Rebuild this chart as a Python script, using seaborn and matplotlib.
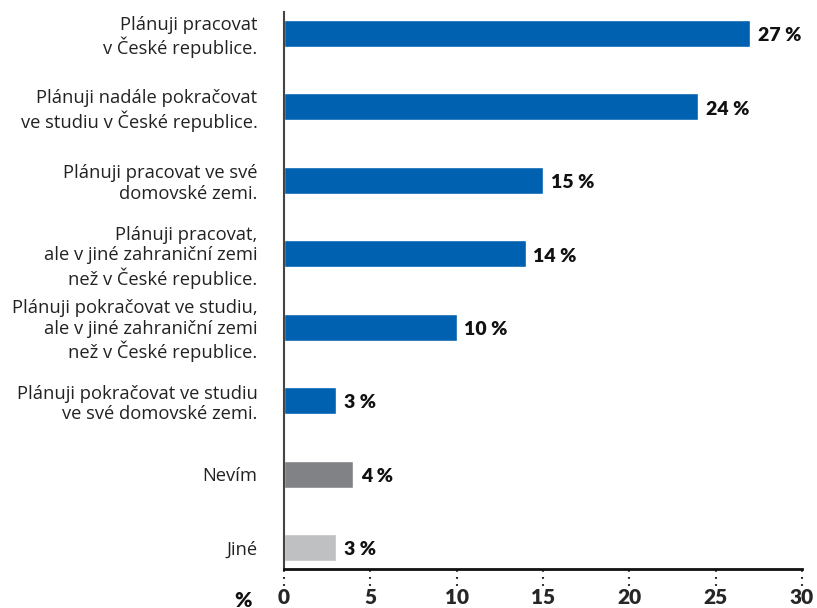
import pandas as pd
import seaborn as sns
import matplotlib.pyplot as plt
import matplotlib.transforms as mtransforms

# data
categories = [
    "Plánuji pracovat\nv České republice.",
    "Plánuji nadále pokračovat\nve studiu v České republice.",
    "Plánuji pracovat ve své\ndomovské zemi.",
    "Plánuji pracovat,\nale v jiné zahraniční zemi\nnež v České republice.",
    "Plánuji pokračovat ve studiu,\nale v jiné zahraniční zemi\nnež v České republice.",
    "Plánuji pokračovat ve studiu\nve své domovské zemi.",
    "Nevím",
    "Jiné",
]
values = [27, 24, 15, 14, 10, 3, 4, 3]
colors = ["#0061b0"] * 6 + ["#808285", "#bfc0c2"]
x_ticks = [0, 5, 10, 15, 20, 25, 30]

df = pd.DataFrame({"kategorie": categories, "podil": values})

sns.set_style("white")
plt.rcParams["font.family"] = ["Lato", "DejaVu Sans"]

fig = plt.figure(figsize=(8.17, 6.08), dpi=100)
ax = fig.add_axes([0.3476, 0.0641, 0.634, 0.916])

sns.barplot(data=df, x="podil", y="kategorie", hue="kategorie",
            palette=colors, legend=False, width=0.37, orient="h", ax=ax,
            saturation=1)

ax.set_xlim(0, 30)
ax.set_ylim(7.29, -0.29)
ax.set_xlabel("")
ax.set_ylabel("")

# value labels
for i, v in enumerate(values):
    ax.text(v + 0.45, i + 0.03, f"{v} %", va="center", ha="left",
            fontsize=14, fontweight="heavy", color="#111111")

# spines
for s in ["top", "right"]:
    ax.spines[s].set_visible(False)
ax.spines["bottom"].set_color("#111111")
ax.spines["bottom"].set_linewidth(2)
ax.spines["left"].set_color("#444444")
ax.spines["left"].set_linewidth(1.5)

ax.set_xticks(x_ticks)
ax.set_xticklabels([str(t) for t in x_ticks], fontsize=15, fontweight="heavy")
ax.tick_params(axis="x", length=0, pad=14)
ax.tick_params(axis="y", length=0, pad=19)
for lbl in ax.get_yticklabels():
    lbl.set_color("#222222")
    lbl.set_multialignment("right")
    lbl.set_family(["Open Sans", "DejaVu Sans"])
    lbl.set_fontsize(13.2)
    lbl.set_linespacing(1.18)

# dotted tick marks below the axis
trans = mtransforms.blended_transform_factory(ax.transData, ax.transAxes)
ax.vlines(x_ticks, -0.002, -0.032, transform=trans, clip_on=False,
          colors="#111111", linestyles=(0, (0.8, 2.6)), linewidth=1.5)

# unit label
ax.text(-2.4, -0.0557, "%", transform=trans, ha="center", va="center",
        fontsize=15, fontweight="heavy", color="#111111")

plt.savefig("out.png", dpi=100)
